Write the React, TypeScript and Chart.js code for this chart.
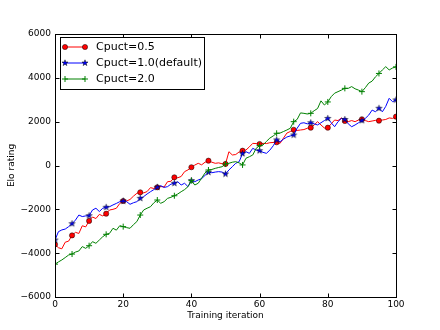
import React, { useEffect, useRef } from "react";
import { Chart, registerables } from "chart.js";

Chart.register(...registerables);

const seriesLabels = ["Cpuct=0.5", "Cpuct=1.0(default)", "Cpuct=2.0"];
const xTitle = "Training iteration";
const yTitle = "Elo rating";
const xTicks = [0, 20, 40, 60, 80, 100];
const yTicks = [-6000, -4000, -2000, 0, 2000, 4000, 6000];

const iterations = Array.from({ length: 101 }, (_, i) => i);

const cpuct05 = [
  -3600, -3750, -3800, -3500, -3450, -3190, -3050, -3100, -2750, -2800,
  -2530, -2350, -2420, -2230, -2300, -2200, -2030, -2000, -1950, -1730,
  -1620, -1620, -1550, -1400, -1270, -1225, -1250, -1190, -1010, -1050,
  -995, -960, -980, -740, -720, -540, -560, -500, -280, -200,
  -80, 20, 100, 30, 150, 220, 150, 100, 120, 80,
  70, 630, 480, 500, 620, 675, 705, 850, 1010, 1000,
  980, 1010, 1000, 1040, 1050, 1060, 1010, 1250, 1480, 1550,
  1630, 1600, 1620, 1640, 1700, 1725, 1850, 2000, 1850, 1710,
  1725, 1900, 2075, 2050, 2170, 2030, 2000, 2050, 2000, 2075,
  2110, 2050, 2000, 2030, 2060, 2045, 2075, 2100, 2170, 2150,
  2230,
];

const cpuct10 = [
  -3400, -3020, -2940, -2900, -2790, -2655, -2490, -2260, -2330, -2300,
  -2290, -2030, -1950, -2100, -1950, -1905, -1880, -1800, -1730, -1650,
  -1620, -1650, -1770, -1700, -1650, -1500, -1420, -1300, -1195, -1100,
  -995, -920, -1000, -965, -850, -810, -740, -890, -810, -965,
  -690, -740, -660, -600, -450, -310, -330, -300, -280, -300,
  -390, -205, -55, 100, 175, 540, 630, 555, 785, 700,
  675, 600, 555, 700, 900, 1165, 1085, 1200, 1300, 1350,
  1390, 1700, 1925, 1950, 1900, 1950, 1900, 1850, 1950, 2050,
  2150, 1950, 1770, 2000, 2150, 2100, 1900, 1770, 1850, 1950,
  2050, 2150, 2300, 2530, 2450, 2610, 2450, 2700, 3065, 2910,
  2990,
];

const cpuct20 = [
  -4500, -4400, -4310, -4200, -4085, -4040, -3950, -3900, -3700, -3780,
  -3660, -3475, -3550, -3400, -3250, -3140, -3095, -2865, -2950, -2745,
  -2790, -2835, -2865, -2700, -2560, -2260, -2030, -1950, -1880, -1700,
  -1575, -1725, -1650, -1500, -1450, -1380, -1300, -1195, -1100, -965,
  -690, -890, -810, -575, -340, -205, -180, -130, -90, -55,
  70, 100, 150, 175, 120, 25, 330, 400, 480, 785,
  905, 935, 1100, 1250, 1350, 1470, 1480, 1550, 1620, 1700,
  2000, 2100, 2400, 2380, 2350, 2380, 2500, 2600, 2950, 2760,
  2900, 3140, 3300, 3370, 3440, 3520, 3520, 3600, 3500, 3440,
  3370, 3550, 3760, 3850, 4050, 4200, 4360, 4510, 4360, 4450,
  4500,
];

const FONT = '"DejaVu Sans", sans-serif';

function drawStar(g: CanvasRenderingContext2D, cx: number, cy: number, r: number, fill: string, stroke: string) {
  const ri = r * 0.382;
  g.beginPath();
  for (let k = 0; k < 10; k++) {
    const ang = -Math.PI / 2 + (k * Math.PI) / 5;
    const rr = k % 2 === 0 ? r : ri;
    g.lineTo(cx + rr * Math.cos(ang), cy + rr * Math.sin(ang));
  }
  g.closePath();
  g.fillStyle = fill;
  g.fill();
  g.lineWidth = 0.5;
  g.strokeStyle = stroke;
  g.stroke();
}

function makeStarCanvas(r: number) {
  const size = Math.ceil(r * 2 + 2);
  const c = document.createElement("canvas");
  c.width = size;
  c.height = size;
  const g = c.getContext("2d")!;
  drawStar(g, size / 2, size / 2, r, "#0000ff", "#000000");
  return c;
}

function drawCircle(g: CanvasRenderingContext2D, x: number, y: number, r: number) {
  g.beginPath();
  g.arc(x, y, r, 0, Math.PI * 2);
  g.fillStyle = "#ff0000";
  g.fill();
  g.lineWidth = 0.5;
  g.strokeStyle = "#000";
  g.stroke();
}

function drawPlus(g: CanvasRenderingContext2D, x: number, y: number, r: number) {
  g.beginPath();
  g.moveTo(x - r, y);
  g.lineTo(x + r, y);
  g.moveTo(x, y - r);
  g.lineTo(x, y + r);
  g.lineWidth = 1;
  g.strokeStyle = "#008000";
  g.stroke();
}

const framePlugin = {
  id: "mplFrame",
  afterDraw(chart: any) {
    const { ctx, chartArea: a, scales } = chart;
    ctx.save();
    ctx.strokeStyle = "#000";
    ctx.lineWidth = 1;
    const L = Math.round(a.left) + 0.5;
    const T = Math.round(a.top) + 0.5;
    const R = Math.round(a.right) + 0.5;
    const B = Math.round(a.bottom) + 0.5;
    ctx.strokeRect(L, T, R - L, B - T);
    const tl = 4;
    ctx.beginPath();
    for (const v of xTicks) {
      const px = Math.round(scales.x.getPixelForValue(v)) + 0.5;
      ctx.moveTo(px, B);
      ctx.lineTo(px, B - tl);
      ctx.moveTo(px, T);
      ctx.lineTo(px, T + tl);
    }
    for (const v of yTicks) {
      const py = Math.round(scales.y.getPixelForValue(v)) + 0.5;
      ctx.moveTo(L, py);
      ctx.lineTo(L + tl, py);
      ctx.moveTo(R, py);
      ctx.lineTo(R - tl, py);
    }
    ctx.stroke();

    ctx.fillStyle = "#000";
    ctx.font = "9px " + FONT;
    ctx.textAlign = "center";
    ctx.textBaseline = "middle";
    ctx.fillText(xTitle, (a.left + a.right) / 2, 316);
    ctx.save();
    ctx.translate(12, (a.top + a.bottom) / 2);
    ctx.rotate(-Math.PI / 2);
    ctx.fillText(yTitle, 0, 0);
    ctx.restore();

    // legend
    const bx = 60.5, by = 37.5, bw = 144, bh = 52;
    ctx.fillStyle = "#fff";
    ctx.fillRect(bx, by, bw, bh);
    ctx.strokeStyle = "#000";
    ctx.lineWidth = 1;
    ctx.strokeRect(bx, by, bw, bh);
    const rows = [47, 63, 79];
    const colors = ["#ff0000", "#0000ff", "#008000"];
    ctx.font = "11px " + FONT;
    ctx.textAlign = "left";
    ctx.textBaseline = "middle";
    for (let k = 0; k < 3; k++) {
      const y = rows[k];
      ctx.beginPath();
      ctx.moveTo(65, y);
      ctx.lineTo(85, y);
      ctx.strokeStyle = colors[k];
      ctx.lineWidth = 1;
      ctx.stroke();
      for (const x of [65, 85]) {
        if (k === 0) drawCircle(ctx, x, y, 2.6);
        else if (k === 1) drawStar(ctx, x, y, 3.2, "#0000ff", "#000");
        else drawPlus(ctx, x, y, 3);
      }
      ctx.fillStyle = "#000";
      ctx.fillText(seriesLabels[k], 96, y + 0.5);
    }
    ctx.restore();
  },
};

export default function App() {
  const ref = useRef<HTMLCanvasElement | null>(null);
  useEffect(() => {
    document.body.style.margin = "0";
    const canvas = ref.current!;
    const star = makeStarCanvas(3.2);
    const markerRadius = (r: number) => (c: any) => (c.dataIndex % 5 === 0 ? r : 0);
    const toPts = (arr: number[]) => arr.map((v, i) => ({ x: iterations[i], y: v }));
    const chart = new Chart(canvas, {
      type: "line",
      data: {
        datasets: [
          {
            label: seriesLabels[0],
            data: toPts(cpuct05),
            borderColor: "#ff0000",
            borderWidth: 1,
            pointStyle: "circle",
            pointRadius: markerRadius(2.6),
            pointHoverRadius: 0,
            pointBackgroundColor: "#ff0000",
            pointBorderColor: "#000",
            pointBorderWidth: 0.5,
            tension: 0,
            order: 3,
          },
          {
            label: seriesLabels[1],
            data: toPts(cpuct10),
            borderColor: "#0000ff",
            borderWidth: 1,
            pointStyle: star as any,
            pointRadius: markerRadius(3),
            pointHoverRadius: 0,
            tension: 0,
            order: 2,
          },
          {
            label: seriesLabels[2],
            data: toPts(cpuct20),
            borderColor: "#008000",
            borderWidth: 1,
            pointStyle: "cross",
            pointRadius: markerRadius(3),
            pointHoverRadius: 0,
            pointBorderColor: "#008000",
            pointBorderWidth: 1,
            tension: 0,
            order: 1,
          },
        ],
      },
      options: {
        animation: false,
        responsive: false,
        devicePixelRatio: 1,
        layout: { padding: { top: 34, right: 44, left: 0, bottom: 0 } },
        plugins: { legend: { display: false }, tooltip: { enabled: false } },
        events: [],
        scales: {
          x: {
            type: "linear",
            min: 0,
            max: 100,
            grid: { display: false, drawTicks: false },
            border: { display: false },
            afterBuildTicks: (s: any) => {
              s.ticks = xTicks.map((v) => ({ value: v }));
            },
            afterFit: (s: any) => {
              s.height = 33;
            },
            ticks: {
              color: "#000",
              font: { family: FONT, size: 9 },
              padding: 2,
              maxRotation: 0,
              callback: (v: any) => String(v),
            },
          },
          y: {
            type: "linear",
            min: -6000,
            max: 6000,
            grid: { display: false, drawTicks: false },
            border: { display: false },
            afterBuildTicks: (s: any) => {
              s.ticks = yTicks.map((v) => ({ value: v }));
            },
            afterFit: (s: any) => {
              s.width = 55;
            },
            ticks: {
              color: "#000",
              font: { family: FONT, size: 9 },
              padding: 4,
              callback: (v: any) => (v < 0 ? "\u2212" + Math.abs(v) : String(v)),
            },
          },
        },
      },
      plugins: [framePlugin],
    } as any);
    return () => chart.destroy();
  }, []);
  return <canvas ref={ref} width={440} height={330} style={{ display: "block" }} />;
}
